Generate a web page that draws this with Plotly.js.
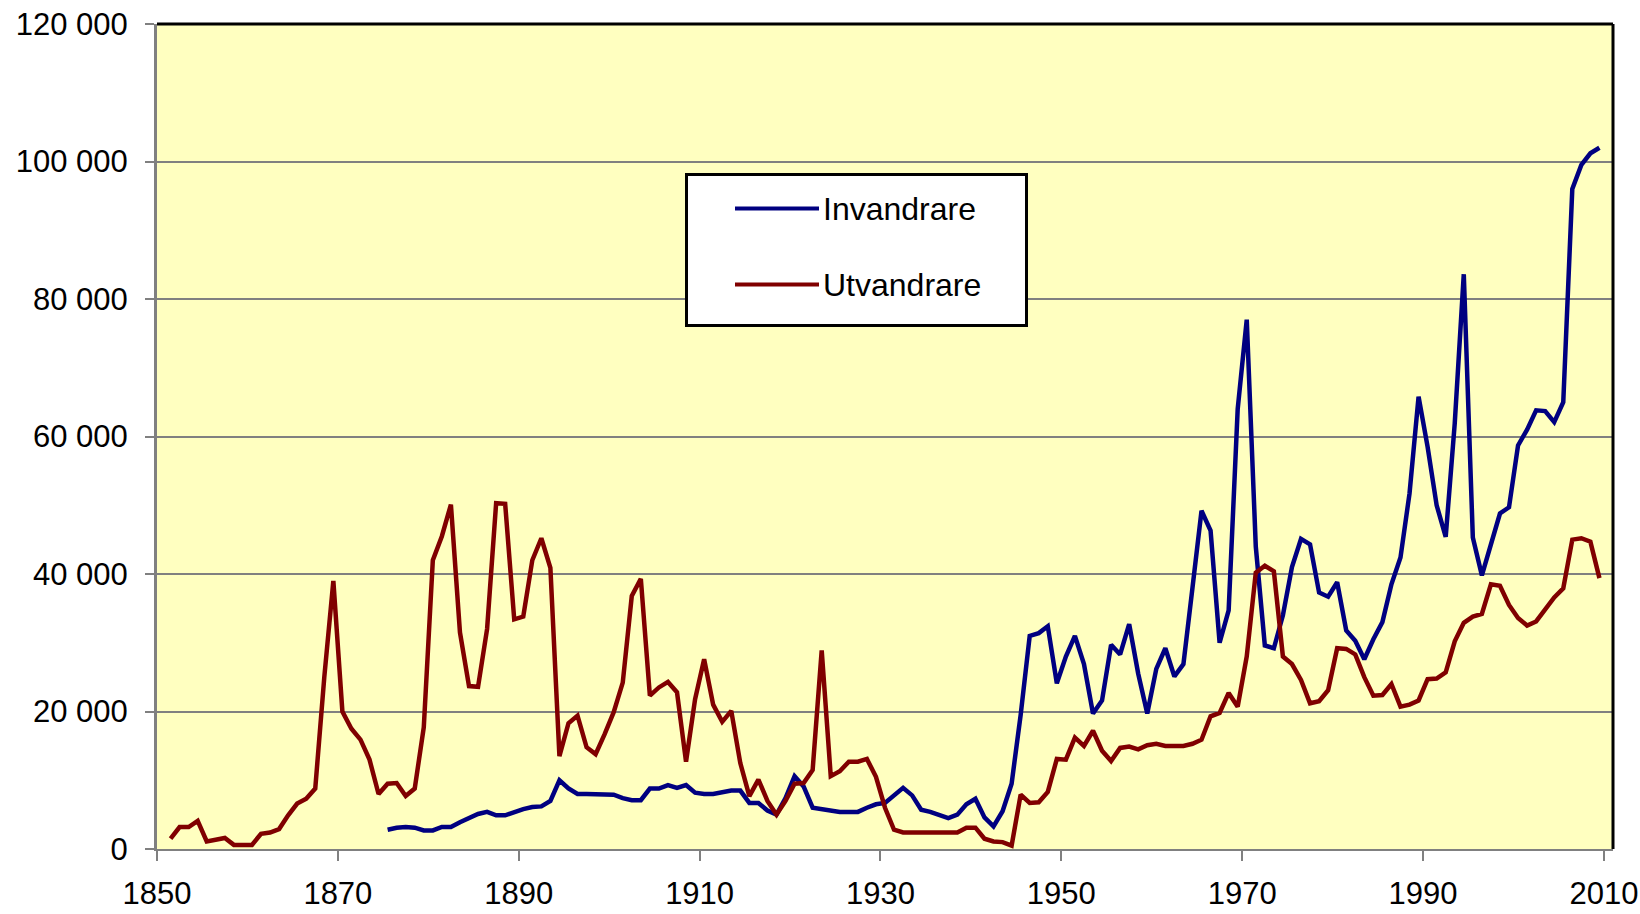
<!DOCTYPE html>
<html>
<head>
<meta charset="utf-8">
<script src="https://cdn.plot.ly/plotly-3.0.1.min.js"></script>
<style>
html, body { margin: 0; padding: 0; background: #ffffff; }
#chart { width: 1640px; height: 914px; }
</style>
</head>
<body>
<div id="chart"></div>
<script>
// Years (categories)
const utvYears = [
  1851,1852,1853,1854,1855,1856,1857,1858,1859,1860,1861,1862,1863,1864,1865,1866,1867,1868,1869,1870,
  1871,1872,1873,1874,1875,1876,1877,1878,1879,1880,1881,1882,1883,1884,1885,1886,1887,1888,1889,1890,
  1891,1892,1893,1894,1895,1896,1897,1898,1899,1900,1901,1902,1903,1904,1905,1906,1907,1908,1909,1910,
  1911,1912,1913,1914,1915,1916,1917,1918,1919,1920,1921,1922,1923,1924,1925,1926,1927,1928,1929,1930,
  1931,1932,1933,1934,1935,1936,1937,1938,1939,1940,1941,1942,1943,1944,1945,1946,1947,1948,1949,1950,
  1951,1952,1953,1954,1955,1956,1957,1958,1959,1960,1961,1962,1963,1964,1965,1966,1967,1968,1969,1970,
  1971,1972,1973,1974,1975,1976,1977,1978,1979,1980,1981,1982,1983,1984,1985,1986,1987,1988,1989,1990,
  1991,1992,1993,1994,1995,1996,1997,1998,1999,2000,2001,2002,2003,2004,2005,2006,2007,2008,2009
];
// Utvandrare (emigrants), 1851-2009
const utvandrare = [
  1500,3200,3200,4100,1100,1400,1600,600,600,600,2200,2400,2900,4900,6600,7300,8800,25000,39000,20000,
  17500,15900,13000,8000,9500,9600,7700,8800,17700,42000,45500,50100,31500,23700,23600,32000,50300,50200,33400,33800,
  42000,45200,40900,13500,18300,19400,14800,13800,16700,19900,24200,36800,39300,22300,23500,24300,22800,12700,21800,27600,
  21000,18500,20100,12500,7700,10100,7000,5000,7000,9500,9600,11500,28900,10600,11300,12700,12700,13100,10500,6000,
  2800,2400,2400,2400,2400,2400,2400,2400,3100,3100,1500,1100,1000,500,7900,6700,6800,8300,13100,13000,
  16200,15000,17200,14300,12800,14700,14900,14500,15100,15300,15000,15000,15000,15300,15900,19300,19800,22700,20700,28000,
  40200,41200,40400,28000,26900,24600,21200,21500,23100,29200,29100,28300,25000,22300,22400,24000,20700,21000,21600,24700,
  24800,25700,30200,32900,33800,34200,38500,38300,35500,33600,32500,33100,34900,36600,37900,45000,45200,44700,39400
];

const invYears = [
  1875,1876,1877,1878,1879,1880,1881,1882,1883,1884,1885,1886,1887,1888,1889,1890,
  1891,1892,1893,1894,1895,1896,1897,1898,1899,1900,1901,1902,1903,1904,1905,1906,1907,1908,1909,1910,
  1911,1912,1913,1914,1915,1916,1917,1918,1919,1920,1921,1922,1923,1924,1925,1926,1927,1928,1929,1930,
  1931,1932,1933,1934,1935,1936,1937,1938,1939,1940,1941,1942,1943,1944,1945,1946,1947,1948,1949,1950,
  1951,1952,1953,1954,1955,1956,1957,1958,1959,1960,1961,1962,1963,1964,1965,1966,1967,1968,1969,1970,
  1971,1972,1973,1974,1975,1976,1977,1978,1979,1980,1981,1982,1983,1984,1985,1986,1987,1988,1989,1990,
  1991,1992,1993,1994,1995,1996,1997,1998,1999,2000,2001,2002,2003,2004,2005,2006,2007,2008,2009
];
// Invandrare (immigrants), 1875-2009
const invandrare = [
  2800,3100,3200,3100,2700,2700,3200,3200,3900,4500,5100,5400,4900,4900,5400,5800,
  6100,6200,7000,10000,8800,8000,8000,8000,8000,7900,7400,7100,7100,8800,8800,9300,8900,9300,8200,8000,
  8000,8200,8500,8500,6700,6700,5600,5000,7400,10600,9100,6000,5800,5700,5400,5400,5400,6000,6500,6700,
  7900,8900,7800,5700,5400,5000,4500,5000,6500,7300,4600,3300,5500,9500,19500,31000,31400,32400,24100,28000,
  31000,26900,19700,21600,29700,28300,32700,25500,19700,26200,29200,25100,26900,38000,49200,46300,30000,34700,64000,77000,
  44000,29600,29200,34000,41000,45100,44300,37300,36700,38800,31800,30300,27600,30500,33000,38500,42400,51700,65800,58500,
  50000,45400,61900,83600,45300,39800,44500,48800,49700,58700,61000,63800,63700,62100,65000,96000,99500,101200,102000
];

const seriesNames = ['Invandrare', 'Utvandrare'];
const seriesColors = ['#000080', '#800000'];
const xTickLabels = ['1850','1870','1890','1910','1930','1950','1970','1990','2010'];
const yTickValues = [0, 20000, 40000, 60000, 80000, 100000, 120000];

const traces = [
  {
    x: invYears, y: invandrare, name: seriesNames[0], type: 'scatter', mode: 'lines',
    line: { color: seriesColors[0], width: 4.5 }, showlegend: false
  },
  {
    x: utvYears, y: utvandrare, name: seriesNames[1], type: 'scatter', mode: 'lines',
    line: { color: seriesColors[1], width: 4.5 }, showlegend: false
  }
];

const fontFamily = '"Liberation Sans", Arial, sans-serif';
const font = { family: fontFamily, size: 31, color: '#000000' };

// Plot area in pixels: left 157, right 1613, top 24, bottom 849
const W = 1640, H = 914, ML = 157, MR = 27, MT = 24, MB = 65;
const PW = W - ML - MR, PH = H - MT - MB;
const px = v => (v - ML) / PW;           // pixel x -> paper x
const py = v => (H - MB - v) / PH;        // pixel y -> paper y

// Legend box (drawn as a framed box inside the plot)
const legendShapes = [
  { type: 'rect', xref: 'paper', yref: 'paper',
    x0: px(686.5), x1: px(1026.5), y0: py(325.5), y1: py(174.5),
    fillcolor: '#ffffff', line: { color: '#000000', width: 3 }, layer: 'above' },
  { type: 'line', xref: 'paper', yref: 'paper',
    x0: px(735), x1: px(819), y0: py(208.5), y1: py(208.5),
    line: { color: seriesColors[0], width: 4 }, layer: 'above' },
  { type: 'line', xref: 'paper', yref: 'paper',
    x0: px(735), x1: px(819), y0: py(284.5), y1: py(284.5),
    line: { color: seriesColors[1], width: 4 }, layer: 'above' }
];
const legendAnnotations = [
  { xref: 'paper', yref: 'paper', x: px(821), y: py(208.5), xanchor: 'left', yanchor: 'middle',
    text: seriesNames[0], showarrow: false, font: { family: fontFamily, size: 32, color: '#000000' } },
  { xref: 'paper', yref: 'paper', x: px(821), y: py(284.5), xanchor: 'left', yanchor: 'middle',
    text: seriesNames[1], showarrow: false, font: { family: fontFamily, size: 32, color: '#000000' } }
];

const layout = {
  width: W, height: H,
  margin: { l: ML, r: MR, t: MT, b: MB, pad: 0 },
  paper_bgcolor: '#ffffff',
  plot_bgcolor: '#FFFFC0',
  separators: ', ',
  font: font,
  showlegend: false,
  xaxis: {
    range: [1849.5, 2010.5],
    tickmode: 'array',
    tickvals: xTickLabels.map(t => Number(t) - 0.5),
    ticktext: xTickLabels,
    ticks: 'outside', ticklen: 10, tickwidth: 2, tickcolor: '#808080',
    ticklabelstandoff: 6,
    showline: true, linecolor: '#808080', linewidth: 2,
    showgrid: false, zeroline: false,
    tickfont: font,
    fixedrange: true
  },
  yaxis: {
    range: [0, 120000],
    tickmode: 'array',
    tickvals: yTickValues,
    tickformat: ',d',
    ticks: 'outside', ticklen: 9, tickwidth: 2, tickcolor: '#808080',
    ticklabelstandoff: 11,
    showline: true, linecolor: '#808080', linewidth: 3,
    showgrid: true, gridcolor: '#808080', gridwidth: 2,
    zeroline: false,
    tickfont: font,
    fixedrange: true
  },
  shapes: [
    { type: 'line', xref: 'paper', yref: 'paper', x0: 0, x1: 1, y0: 1, y1: 1,
      line: { color: '#000000', width: 3 }, layer: 'above' },
    { type: 'line', xref: 'paper', yref: 'paper', x0: 1, x1: 1, y0: 0, y1: 1,
      line: { color: '#000000', width: 3 }, layer: 'above' }
  ].concat(legendShapes),
  annotations: legendAnnotations
};

Plotly.newPlot('chart', traces, layout, { displayModeBar: false, staticPlot: true });
</script>
</body>
</html>
